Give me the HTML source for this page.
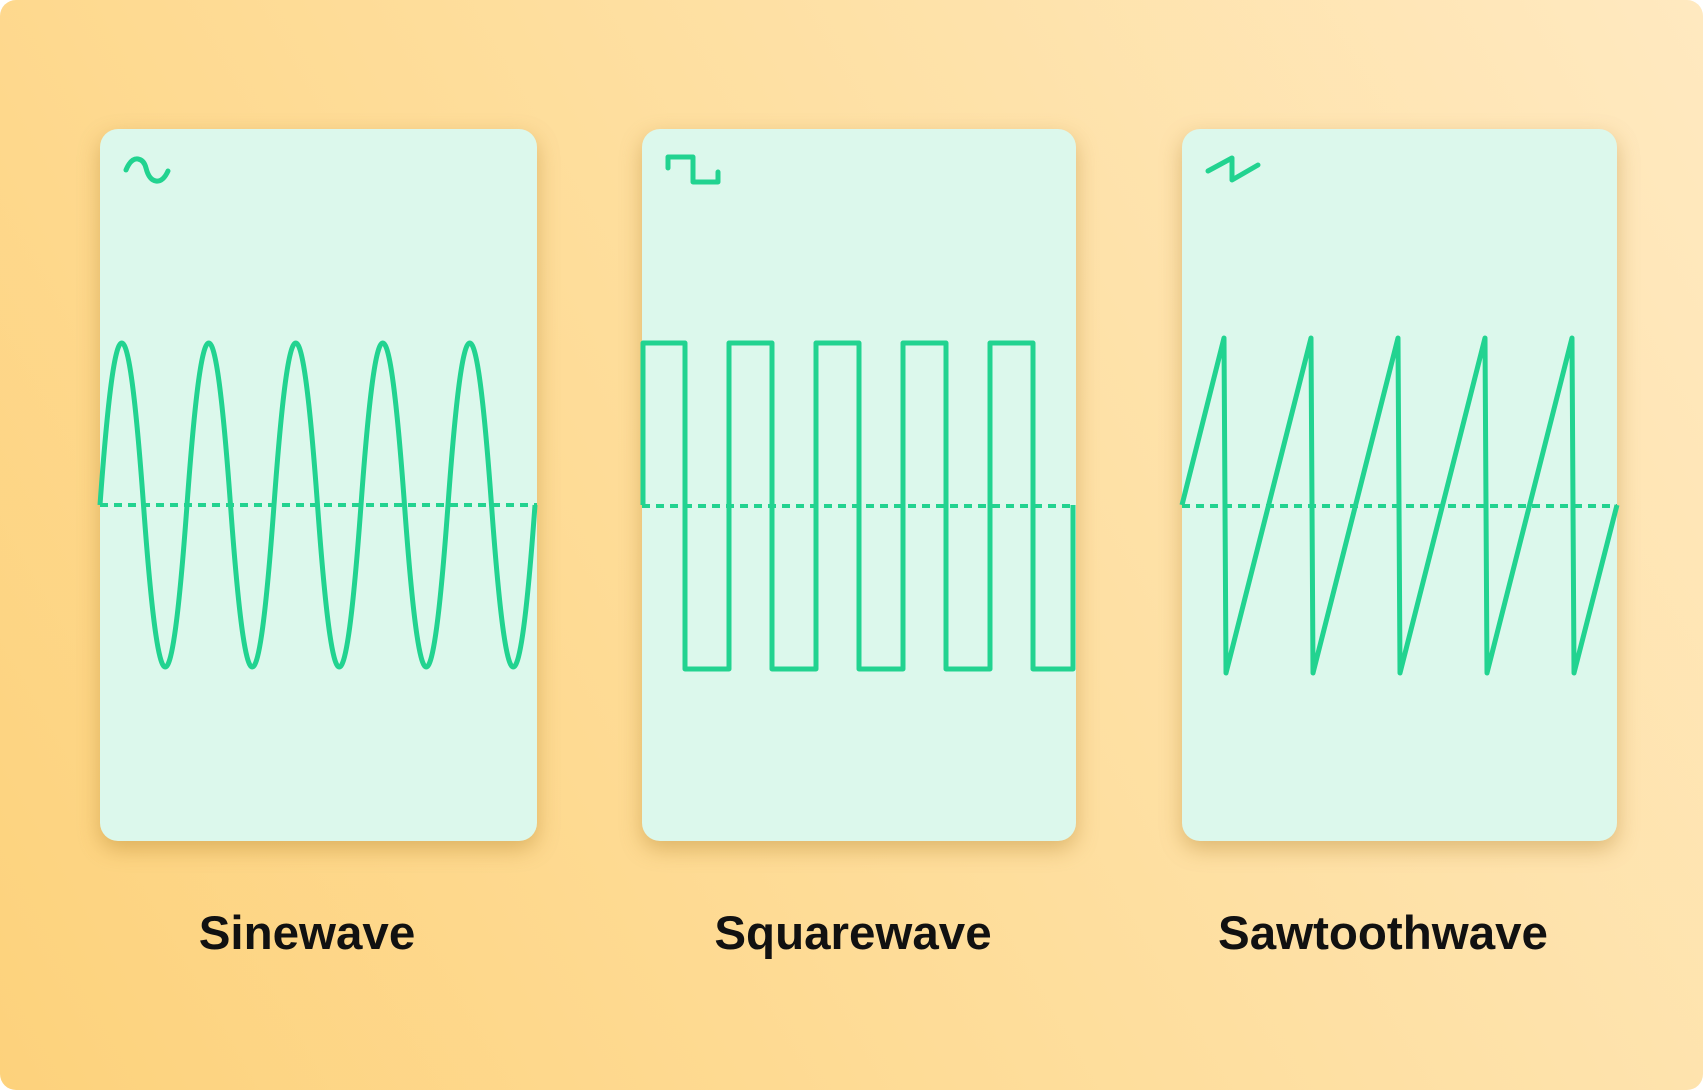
<!DOCTYPE html>
<html><head><meta charset="utf-8"><style>
html,body{margin:0;padding:0;background:#fff;}
#bg{position:absolute;left:0;top:0;width:1703px;height:1090px;border-radius:16px;overflow:hidden;
background:linear-gradient(60deg,#fdd27c 0%,#fedd9a 45%,#ffe9c0 100%);}
.card{position:absolute;top:129px;height:712px;background:#dcf8ec;border-radius:18px;box-shadow:0 8px 22px rgba(160,110,20,.35);}
.lbl{position:absolute;top:906px;width:400px;text-align:center;font-family:"Liberation Sans",sans-serif;font-weight:bold;font-size:47.5px;color:#111;}
svg{position:absolute;left:0;top:0;}
</style></head><body>
<div id="bg">
<div class="card" style="left:100px;width:437px"></div>
<div class="card" style="left:642px;width:434px"></div>
<div class="card" style="left:1182px;width:435px"></div>
<svg width="1703" height="1090" fill="none" stroke="#22d390" stroke-width="5" stroke-linecap="round" stroke-linejoin="round">
<g stroke-dasharray="8 6" stroke-linecap="butt" stroke-width="4">
<line x1="100" y1="505" x2="537" y2="505"/>
<line x1="642" y1="506" x2="1074" y2="506"/>
<line x1="1182" y1="506" x2="1617" y2="506"/>
</g>
<path stroke-linecap="butt" d="M100 505 c15.7 -216 27.8 -216 43.5 0 c15.7 216 27.8 216 43.5 0 c15.7 -216 27.8 -216 43.5 0 c15.7 216 27.8 216 43.5 0 c15.7 -216 27.8 -216 43.5 0 c15.7 216 27.8 216 43.5 0 c15.7 -216 27.8 -216 43.5 0 c15.7 216 27.8 216 43.5 0 c15.7 -216 27.8 -216 43.5 0 c15.7 216 27.8 216 43.5 0"/>
<path stroke-linecap="butt" stroke-linejoin="round" d="M643 505 V343 H685 V669 H729 V343 H772 V669 H816 V343 H859 V669 H903 V343 H946 V669 H990 V343 H1033 V669 H1073 V505"/>
<path stroke-linecap="butt" d="M1182 505 L1224 338 L1226 673 L1311 338 L1313 673 L1398 338 L1400 673 L1485 338 L1487 673 L1572 338 L1574 673 L1617 505"/>
<path d="M126 170 q5 -12 12 -11 q6 1 8 9 q3 12 10 13 q7 1 12 -10"/>
<path d="M668 168 V157 H693 V182 H718 V172"/>
<path d="M1208 171 L1232 158 V180 L1258 165"/>
</svg>
<div class="lbl" style="left:107px">Sinewave</div>
<div class="lbl" style="left:653px">Squarewave</div>
<div class="lbl" style="left:1183px">Sawtoothwave</div>
</div>
</body></html>
